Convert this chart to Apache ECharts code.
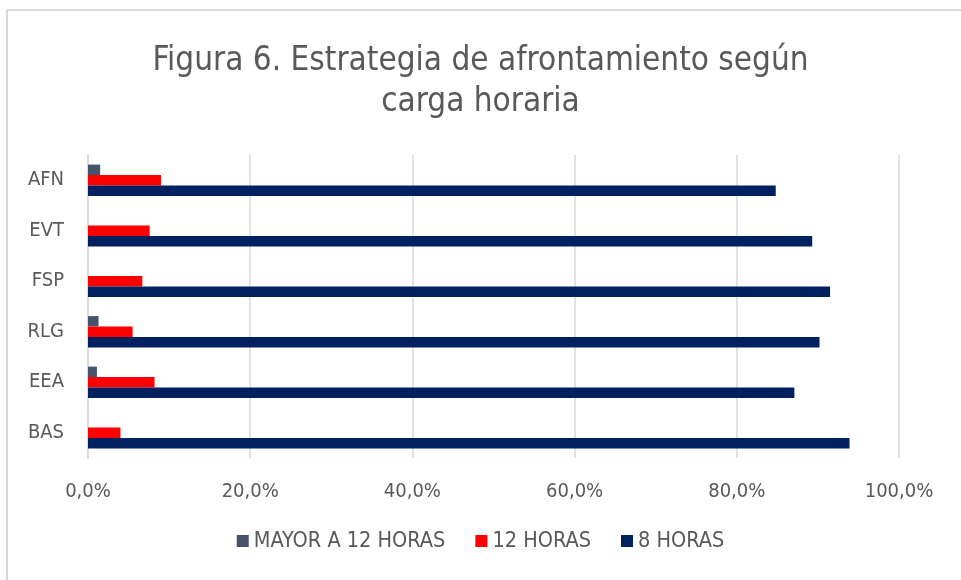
<!DOCTYPE html>
<html>
<head>
<meta charset="utf-8">
<script src="https://cdn.jsdelivr.net/npm/echarts@6/dist/echarts.min.js"></script>
<style>
  html, body { margin: 0; padding: 0; background: #fff; }
  #main { width: 961px; height: 580px; }
</style>
</head>
<body>
<div id="main"></div>
<script>
// categories, bottom to top
var categories = ['BAS', 'EEA', 'RLG', 'FSP', 'EVT', 'AFN'];
// values in %
var ochoHoras = [93.9, 87.1, 90.2, 91.5, 89.3, 84.8];
var doceHoras = [4.0, 8.2, 5.5, 6.7, 7.6, 9.0];
var mayorDoce = [0, 1.1, 1.3, 0, 0, 1.5];
var xTicks = [0, 20, 40, 60, 80, 100];

var font = '"Liberation Sans Narrow", "DejaVu Sans Condensed", sans-serif';
var textColor = '#595959';

var chart = echarts.init(document.getElementById('main'));

function pct(v) {
  return v.toFixed(1).replace('.', ',') + '%';
}

var option = {
  backgroundColor: '#fff',
  animation: false,
  title: {
    text: 'Figura 6. Estrategia de afrontamiento según\ncarga horaria',
    left: 'center',
    top: 36,
    textStyle: {
      fontFamily: font,
      fontWeight: 'normal',
      fontSize: 33,
      lineHeight: 41,
      color: textColor
    }
  },
  legend: {
    data: ['MAYOR A 12 HORAS', '12 HORAS', '8 HORAS'],
    bottom: 23,
    left: 'center',
    itemWidth: 12,
    itemHeight: 12,
    itemGap: 30,
    icon: 'rect',
    textStyle: { fontFamily: font, fontSize: 21.5, color: textColor }
  },
  grid: { left: 88, right: 62, top: 155, bottom: 122 },
  xAxis: {
    type: 'value',
    min: 0,
    max: 100,
    interval: 20,
    axisLine: { show: false },
    axisTick: { show: false },
    splitLine: { lineStyle: { color: '#d9d9d9', width: 1.5 } },
    axisLabel: {
      margin: 24,
      fontFamily: font,
      fontSize: 20,
      color: textColor,
      formatter: function (v) { return xTicks.indexOf(v) >= 0 ? pct(v) : ''; }
    }
  },
  yAxis: {
    type: 'category',
    data: categories,
    axisLine: { show: true, lineStyle: { color: '#d9d9d9', width: 1.5 } },
    axisTick: { show: false },
    axisLabel: { margin: 24, fontFamily: font, fontSize: 20, color: textColor }
  },
  series: [
    {
      name: 'MAYOR A 12 HORAS', type: 'bar', data: mayorDoce,
      itemStyle: { color: '#44546a' },
      barGap: '0%', barCategoryGap: '38%'
    },
    {
      name: '12 HORAS', type: 'bar', data: doceHoras,
      itemStyle: { color: '#ff0000' },
      barGap: '0%', barCategoryGap: '38%'
    },
    {
      name: '8 HORAS', type: 'bar', data: ochoHoras,
      itemStyle: { color: '#002060' },
      barGap: '0%', barCategoryGap: '38%'
    }
  ],
  graphic: [
    { type: 'line', shape: { x1: 7, y1: 10, x2: 961, y2: 10 }, style: { stroke: '#d9d9d9', lineWidth: 2 } },
    { type: 'line', shape: { x1: 7, y1: 10, x2: 7, y2: 580 }, style: { stroke: '#d9d9d9', lineWidth: 2 } }
  ]
};

chart.setOption(option);
</script>
</body>
</html>
